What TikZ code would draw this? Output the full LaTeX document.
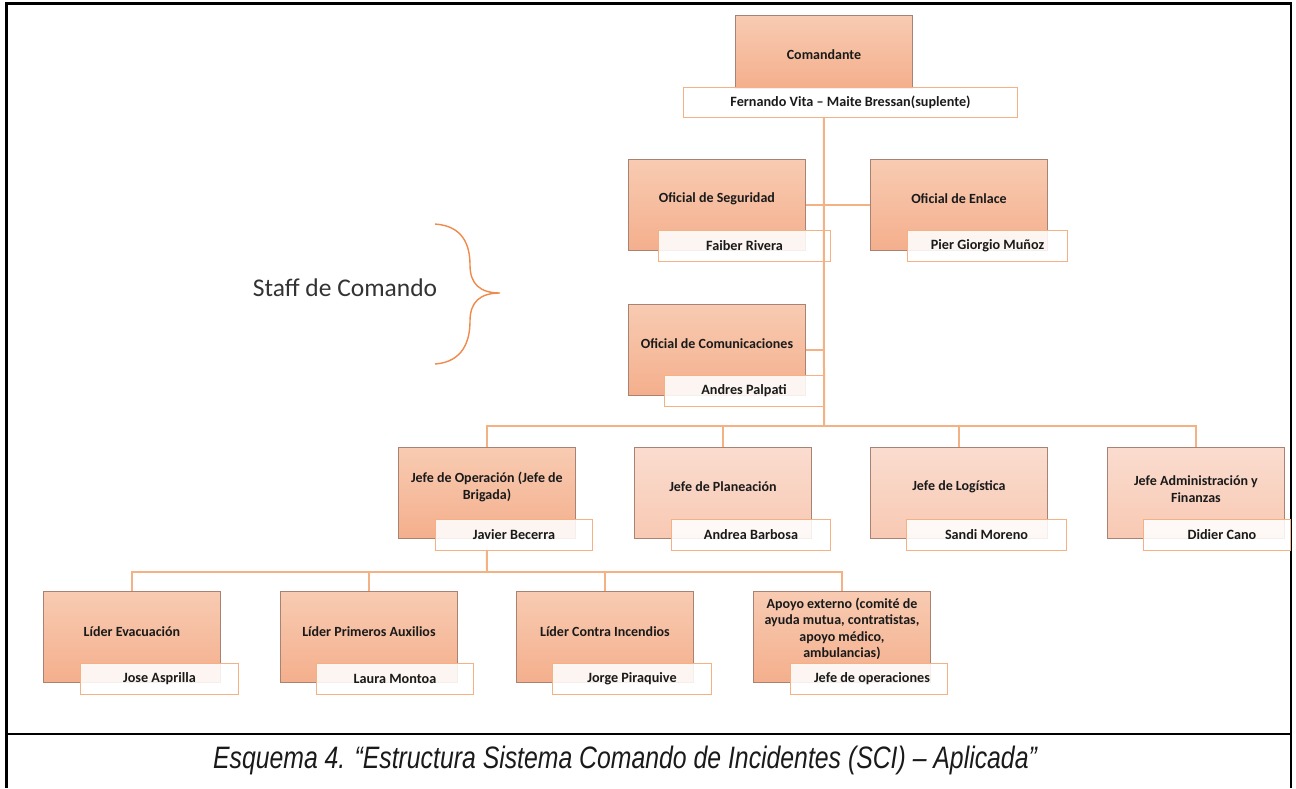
\documentclass[tikz,border=0pt]{standalone}
\usepackage{fontspec}
\setmainfont{Carlito}
\newfontfamily\capfont{Liberation Sans}
\usetikzlibrary{calc}
\definecolor{connc}{HTML}{F4B183}
\definecolor{bracec}{HTML}{F08A4B}
\definecolor{boxline}{HTML}{A88272}
\definecolor{darktop}{HTML}{F8CBB2}
\definecolor{darkbot}{HTML}{F4AF8D}
\definecolor{lighttop}{HTML}{FADCCF}
\definecolor{lightbot}{HTML}{F8C9B3}
\definecolor{txt}{HTML}{1A1A1A}
\tikzset{
  orgbox/.style={draw=boxline, line width=0.9pt, top color=darktop, bottom color=darkbot,
    anchor=north west, inner sep=0pt, minimum width=177pt, minimum height=91pt},
  lightbox/.style={orgbox, top color=lighttop, bottom color=lightbot},
  namebox/.style={draw=connc, line width=1pt, fill=white, fill opacity=0.88, text opacity=1,
    anchor=north west, inner sep=0pt, minimum height=31pt, minimum width=159pt,
    font=\fontsize{14.2}{16}\selectfont\bfseries, text=txt},
  boxtxt/.style={font=\fontsize{14}{16.5}\selectfont\bfseries, text=txt, align=center, inner sep=0pt},
  conn/.style={draw=connc, line width=2pt},
  frame/.style={draw=black, line width=2.2pt}
}
\begin{document}
\begin{tikzpicture}[x=1pt,y=-1pt]
\useasboundingbox (0,0) rectangle (1296,788);
% frame
\draw[frame] (6.5,788) -- (6.5,3.5) -- (1291,3.5) -- (1291,788);
\draw[frame] (6.5,734) -- (1291,734);

% level 0
\node[orgbox, minimum height=73pt] (com) at (735,15) {};
\node[namebox, minimum width=334pt, minimum height=30pt] (comN) at (683,87) {Fernando Vita -- Maite Bressan(suplente)};
\node[boxtxt] (comT) at ([yshift=-3pt]com.center) {Comandante};

% staff
\node[orgbox] (seg) at (628,159) {};
\node[boxtxt] (segT) at ([yshift=6pt]seg.center) {Oficial de Seguridad};
\node[namebox, minimum width=172pt] (segN) at (658,230) {Faiber Rivera};

\node[orgbox] (enl) at (870,159) {};
\node[boxtxt] (enlT) at ([yshift=6pt]enl.center) {Oficial de Enlace};
\node[namebox, minimum width=160pt] (enlN) at (907,230) {Pier Giorgio Muñoz};

\node[orgbox] (cmu) at (628,304) {};
\node[boxtxt] (cmuT) at ([yshift=6pt]cmu.center) {Oficial de Comunicaciones};
\node[namebox] (cmuN) at (664,375) {Andres Palpati};

% sections
\node[orgbox] (jop) at (398,447) {};
\node[boxtxt] (jopT) at ([yshift=6pt]jop.center) {Jefe de Operación (Jefe de\\Brigada)};
\node[namebox, minimum width=157pt] (jopN) at (435,519) {Javier Becerra};

\node[lightbox] (pla) at (634,447) {};
\node[boxtxt] (plaT) at ([yshift=6pt]pla.center) {Jefe de Planeación};
\node[namebox] (plaN) at (671,519) {Andrea Barbosa};

\node[lightbox] (log) at (870,447) {};
\node[boxtxt] (logT) at ([yshift=6pt]log.center) {Jefe de Logística};
\node[namebox, minimum width=160pt] (logN) at (906,519) {Sandi Moreno};

\node[lightbox] (adm) at (1107,447) {};
\node[boxtxt] (admT) at ([yshift=4pt]adm.center) {Jefe Administración y\\Finanzas};
\node[namebox, minimum width=147pt] (admN) at (1143,519) {\hspace*{10pt}Didier Cano};

% leaders
\node[orgbox] (eva) at (43,591) {};
\node[boxtxt] (evaT) at ([yshift=5pt]eva.center) {Líder Evacuación};
\node[namebox, minimum width=158pt] (evaN) at (80,663) {Jose Asprilla};

\node[orgbox] (pau) at (280,591) {};
\node[boxtxt] (pauT) at ([yshift=5pt]pau.center) {Líder Primeros Auxilios};
\node[namebox, minimum width=157pt] (pauN) at (316,663) {Laura Montoa};

\node[orgbox] (inc) at (516,591) {};
\node[boxtxt] (incT) at ([yshift=5pt]inc.center) {Líder Contra Incendios};
\node[namebox] (incN) at (552,663) {Jorge Piraquive};

\node[orgbox] (apo) at (753,591) {};
\node[boxtxt] (apoT) at ([yshift=8pt]apo.center) {Apoyo externo (comité de\\ayuda mutua, contratistas,\\apoyo médico,\\ambulancias)};
\node[namebox, minimum width=157pt] (apoN) at (790,663) {\hspace*{6pt}Jefe de operaciones};

% connectors
\coordinate (bus1) at (824,426);
\coordinate (bus2) at (487,572);
\draw[conn] (com.center |- comN.south) -- (bus1);
\draw[conn] (seg.east) -- (enl.west);
\draw[conn] (cmu.east) -- (cmu.east -| bus1);
\draw[conn] (jop.north) -- (jop.north |- bus1) -| (adm.north);
\draw[conn] (pla.north) -- (pla.north |- bus1);
\draw[conn] (log.north) -- (log.north |- bus1);
\draw[conn] (jop.center |- jopN.south) -- (bus2);
\draw[conn] (eva.north) -- (eva.north |- bus2) -| (apo.north);
\draw[conn] (pau.north) -- (pau.north |- bus2);
\draw[conn] (inc.north) -- (inc.north |- bus2);

% staff brace
\draw[bracec, line width=1.4pt] (435,224) .. controls (463,226) and (470,245) .. (470,265)
  .. controls (470,284) and (480,293) .. (500,293)
  .. controls (480,293) and (470,302) .. (470,321)
  .. controls (470,341) and (463,362) .. (435,364);
\node[font=\fontsize{25.5}{30}\selectfont, text=black!80] (staff) at (345,288) {Staff de Comando};

% caption
\node[text=txt] (cap) at (625,760) {\scalebox{0.8}[1]{\capfont\itshape\fontsize{31}{35}\selectfont Esquema 4. “Estructura Sistema Comando de Incidentes (SCI) – Aplicada”}};
\end{tikzpicture}
\end{document}
